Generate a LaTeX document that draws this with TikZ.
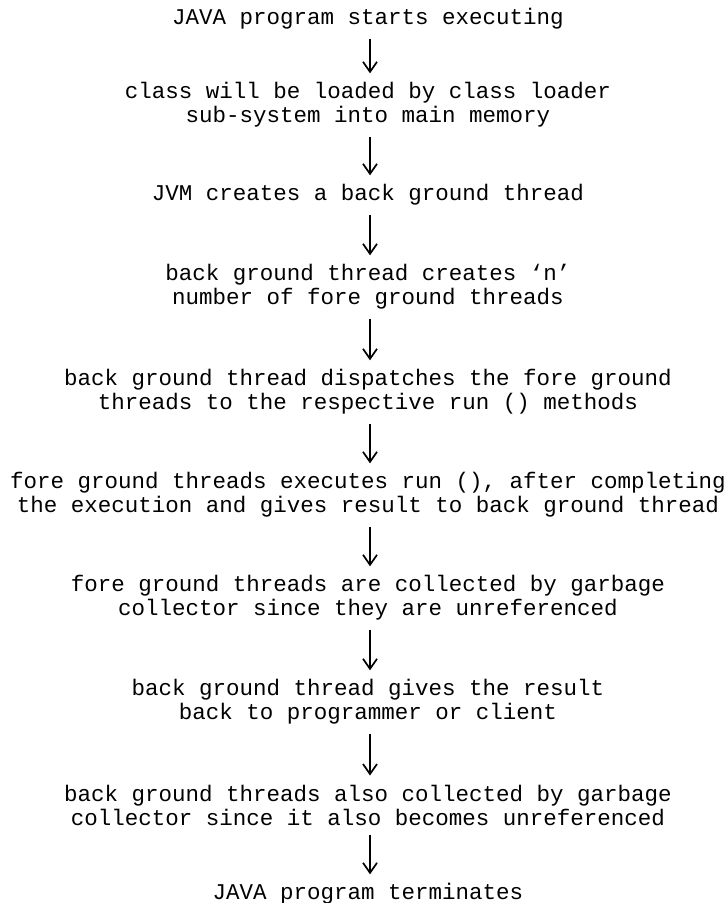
\documentclass[tikz,border=0pt]{standalone}
\usepackage{fontspec}
\setmainfont{Liberation Mono}
\usetikzlibrary{arrows.meta}
\begin{document}
\begin{tikzpicture}[x=1pt,y=-1pt,
  stepbox/.style={inner sep=0pt, align=center, font=\fontsize{22.5}{24}\selectfont},
  flow/.style={-{Straight Barb[length=10pt,width=14pt]}, line width=1.7pt,
               shorten <=9pt, shorten >=9pt}]
\useasboundingbox (0,0) rectangle (728,903);
\node[stepbox] (n1)  at (368,19)  {JAVA program starts executing};
\node[stepbox] (n2)  at (368,105) {class will be loaded by class loader\\sub-system into main memory};
\node[stepbox] (n3)  at (368,195) {JVM creates a back ground thread};
\node[stepbox] (n4)  at (368,287) {back ground thread creates `n'\\number of fore ground threads};
\node[stepbox] (n5)  at (368,392) {back ground thread dispatches the fore ground\\threads to the respective run () methods};
\node[stepbox] (n6)  at (368,495) {fore ground threads executes run (), after completing\\the execution and gives result to back ground thread};
\node[stepbox] (n7)  at (368,598) {fore ground threads are collected by garbage\\collector since they are unreferenced};
\node[stepbox] (n8)  at (368,702) {back ground thread gives the result\\back to programmer or client};
\node[stepbox] (n9)  at (368,805) {back ground threads also collected by garbage\\collector since it also becomes unreferenced};
\node[stepbox] (n10) at (368,894) {JAVA program terminates};
\foreach \a/\b in {n1/n2,n2/n3,n3/n4,n4/n5,n5/n6,n6/n7,n7/n8,n8/n9,n9/n10}
  \draw[flow] ([xshift=2pt]\a.south) -- ([xshift=2pt]\b.north);
\end{tikzpicture}
\end{document}
